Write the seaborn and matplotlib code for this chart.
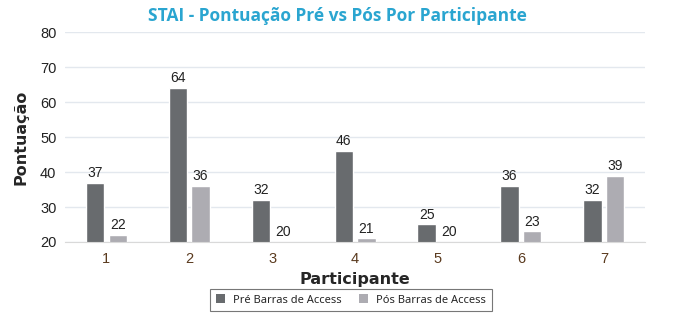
import matplotlib
matplotlib.use("Agg")
import matplotlib.pyplot as plt
import seaborn as sns
import pandas as pd

participants = ["1", "2", "3", "4", "5", "6", "7"]
pre = [37, 64, 32, 46, 25, 36, 32]
pos = [22, 36, 20, 21, 20, 23, 39]
series = ["Pré Barras de Access", "Pós Barras de Access"]
colors = ["#686b6e", "#adacb2"]

df = pd.DataFrame({
    "Participante": participants * 2,
    "Pontuação": pre + pos,
    "Série": [series[0]] * len(pre) + [series[1]] * len(pos),
})

sns.set_style("white")
plt.rcParams["font.family"] = ["Liberation Sans", "DejaVu Sans"]

fig = plt.figure(figsize=(6.75, 3.25), dpi=100)
ax = fig.add_axes([0.096, 0.2554, 0.86, 0.646])

sns.barplot(data=df, x="Participante", y="Pontuação", hue="Série",
            palette=colors, width=0.55, gap=0.2, ax=ax, legend=False,
            saturation=1)

ax.set_ylim(20, 80)
ax.set_xlim(-0.5, 6.5)
ax.set_yticks(range(20, 81, 10))
ax.grid(axis="y", color="#e3e8ee", linewidth=1)
ax.set_axisbelow(True)
for s in ["top", "right", "left"]:
    ax.spines[s].set_visible(False)
ax.spines["bottom"].set_color("#d9d9d9")
ax.tick_params(axis="y", length=0, labelsize=10.5, labelcolor="#222222", pad=6)
ax.tick_params(axis="x", length=4, color="#d9d9d9", labelsize=10.5, labelcolor="#5a3a1e")

for cont in ax.containers:
    ax.bar_label(cont, fmt="%d", padding=2, fontsize=10, color="#222222")

lab_font = {"family": ["Open Sans", "DejaVu Sans"], "size": 11.5, "weight": "bold"}
ax.set_xlabel("Participante", fontdict=lab_font, labelpad=4)
ax.set_ylabel("Pontuação", fontdict=lab_font, labelpad=8)
ax.xaxis.label.set_fontfamily(["DejaVu Sans"])
ax.yaxis.label.set_fontfamily(["DejaVu Sans"])
ax.xaxis.label.set_fontsize(11.5)
ax.yaxis.label.set_fontsize(11.5)

fig.text(0.5, 0.95, "STAI - Pontuação Pré vs Pós Por Participante", ha="center", va="center",
         fontsize=12.5, fontweight="bold", color="#2aa5d0", family=["Open Sans", "DejaVu Sans"])

from matplotlib.patches import Patch
handles = [Patch(facecolor=c, edgecolor="none") for c in colors]
leg = fig.legend(handles, series, loc="center", bbox_to_anchor=(0.52, 0.077), ncol=2,
                 frameon=True, fancybox=False, handlelength=0.8, handleheight=0.8,
                 columnspacing=1.5, borderpad=0.5, prop={"family": ["Noto Sans", "DejaVu Sans"], "size": 8})
leg.get_frame().set_edgecolor("#555555")
leg.get_frame().set_linewidth(0.8)

fig.savefig("out.png", dpi=100)
